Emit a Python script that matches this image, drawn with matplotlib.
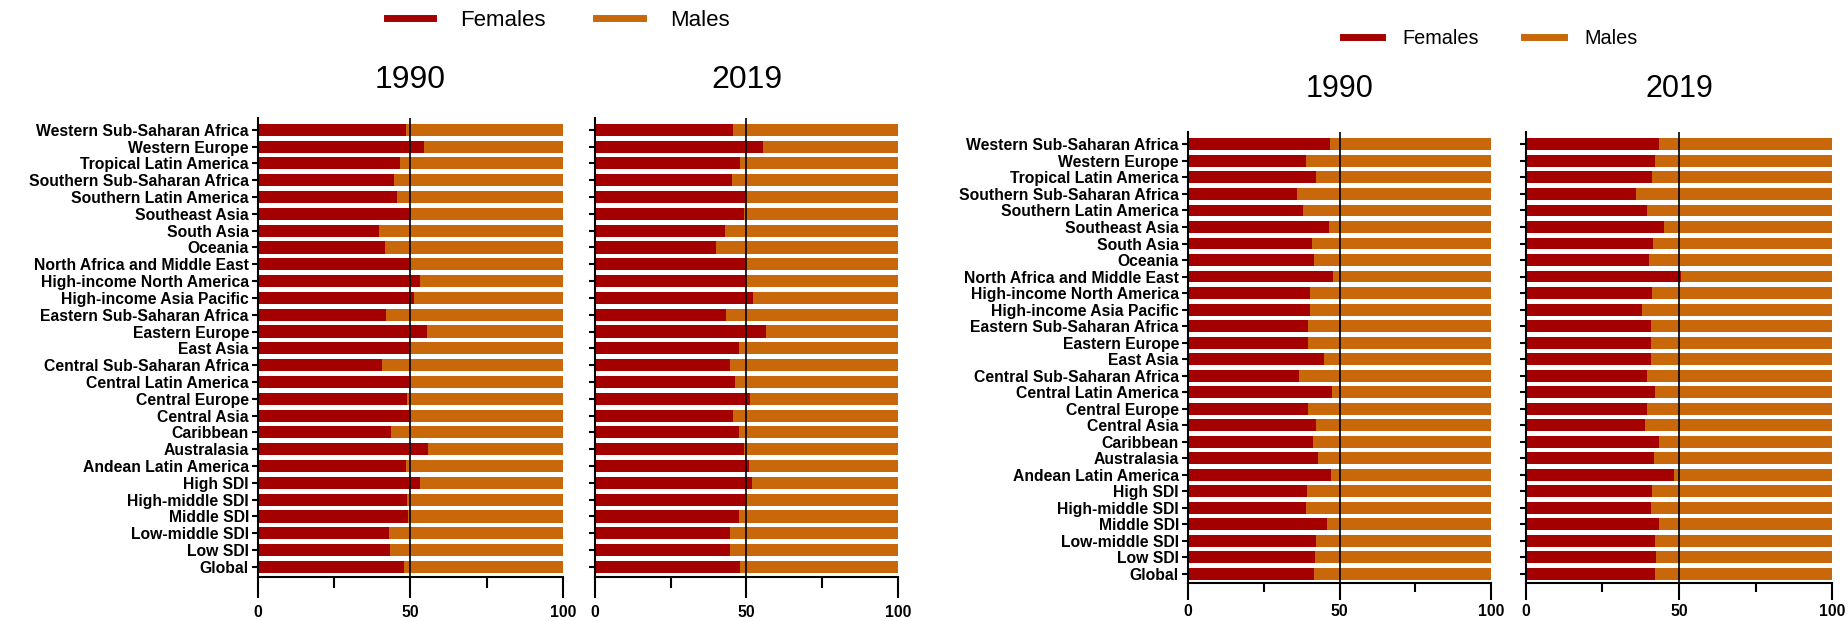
import matplotlib
matplotlib.use("Agg")
import matplotlib.pyplot as plt
from matplotlib.lines import Line2D

plt.rcParams['font.family'] = ['Liberation Sans', 'DejaVu Sans']

regions = ['Western Sub-Saharan Africa', 'Western Europe', 'Tropical Latin America',
           'Southern Sub-Saharan Africa', 'Southern Latin America', 'Southeast Asia',
           'South Asia', 'Oceania', 'North Africa and Middle East',
           'High-income North America', 'High-income Asia Pacific',
           'Eastern Sub-Saharan Africa', 'Eastern Europe', 'East Asia',
           'Central Sub-Saharan Africa', 'Central Latin America', 'Central Europe',
           'Central Asia', 'Caribbean', 'Australasia', 'Andean Latin America',
           'High SDI', 'High-middle SDI', 'Middle SDI', 'Low-middle SDI', 'Low SDI',
           'Global']

# female share (%) - left figure
left_1990 = [48.6, 54.3, 46.7, 44.6, 45.5, 50.3, 39.8, 41.7, 50.2, 53.0, 51.3, 42.1, 55.5,
             50.0, 40.7, 50.3, 49.0, 50.2, 43.7, 55.9, 48.6, 53.0, 49.0, 49.2, 43.1, 43.3,
             48.0]
left_2019 = [45.4, 55.5, 47.8, 45.2, 49.8, 49.3, 43.0, 39.8, 49.8, 49.6, 52.3, 43.2, 56.6,
             47.4, 44.6, 46.3, 51.0, 45.7, 47.4, 49.3, 50.7, 51.8, 49.6, 47.6, 44.6, 44.4,
             47.8]
# female share (%) - right figure
right_1990 = [46.7, 39.0, 42.3, 36.0, 38.0, 46.4, 40.9, 41.7, 47.9, 40.2, 40.1, 39.7, 39.7,
              45.0, 36.7, 47.6, 39.7, 42.2, 41.4, 42.9, 47.1, 39.4, 39.0, 45.9, 42.4, 41.9,
              41.6]
right_2019 = [43.5, 42.2, 41.1, 36.1, 39.7, 45.0, 41.5, 40.2, 50.7, 41.3, 37.8, 40.8, 40.7,
              40.7, 39.5, 42.2, 39.6, 38.9, 43.5, 41.7, 48.3, 41.1, 40.7, 43.6, 42.0, 42.4,
              42.0]

RED = '#A50000'
ORANGE = '#C8680A'
W, H = 1849, 621


def rect(x0, x1, ytop, ybot):
    return [x0 / W, 1 - ybot / H, (x1 - x0) / W, (ybot - ytop) / H]


def panel(fig, box, females, show_labels, ylim, ticklen=15, pad=5):
    ax = fig.add_axes(rect(*box))
    y = range(len(regions))
    males = [100 - f for f in females]
    ax.barh(y, females, height=0.72, color=RED)
    ax.barh(y, males, left=females, height=0.72, color=ORANGE)
    ax.axvline(50, color='black', lw=1.2, zorder=3)
    ax.set_xlim(0, 100)
    ax.set_ylim(*ylim)
    ax.set_yticks(list(y))
    if show_labels:
        ax.set_yticklabels(regions, fontsize=11.3, fontweight='bold')
    else:
        ax.set_yticklabels([])
    ax.set_xticks([0, 50, 100])
    ax.set_xticklabels(['0', '50', '100'], fontsize=11.3, fontweight='bold')
    ax.set_xticks([25, 75], minor=True)
    ax.tick_params(axis='x', which='major', length=ticklen, width=1.5, pad=pad)
    ax.tick_params(axis='x', which='minor', length=ticklen * 0.55, width=1.5)
    ax.tick_params(axis='y', length=4.5, width=1.5, pad=2)
    for s in ['top', 'right']:
        ax.spines[s].set_visible(False)
    for s in ['left', 'bottom']:
        ax.spines[s].set_linewidth(1.5)
    return ax


fig = plt.figure(figsize=(W / 100, H / 100), dpi=100)

panel(fig, (258, 563, 118, 577), left_1990, True, (26.6, -0.7))
panel(fig, (595, 898, 118, 577), left_2019, False, (26.6, -0.7))
panel(fig, (1188, 1491, 132, 583), right_1990, True, (26.55, -0.75), ticklen=12, pad=3)
panel(fig, (1526, 1832, 132, 583), right_2019, False, (26.55, -0.75), ticklen=12, pad=3)

fig.text(410 / W, 1 - 80 / H, '1990', fontsize=23, ha='center', va='center')
fig.text(747 / W, 1 - 80 / H, '2019', fontsize=23, ha='center', va='center')
fig.text(1340 / W, 1 - 89 / H, '1990', fontsize=22, ha='center', va='center')
fig.text(1679 / W, 1 - 89 / H, '2019', fontsize=22, ha='center', va='center')

handles = [Line2D([], [], color=RED, lw=5), Line2D([], [], color=ORANGE, lw=5)]
fig.legend(handles, ['Females', 'Males'], loc='center', ncol=2, frameon=False,
           bbox_to_anchor=(558 / W, 1 - 20 / H), fontsize=16, handlelength=2.1,
           handletextpad=1.2, columnspacing=2.3)
fig.legend(handles, ['Females', 'Males'], loc='center', ncol=2, frameon=False,
           bbox_to_anchor=(1490 / W, 1 - 38 / H), fontsize=14.3, handlelength=2.0,
           handletextpad=1.0, columnspacing=2.3)

fig.savefig('out.png', dpi=100)
